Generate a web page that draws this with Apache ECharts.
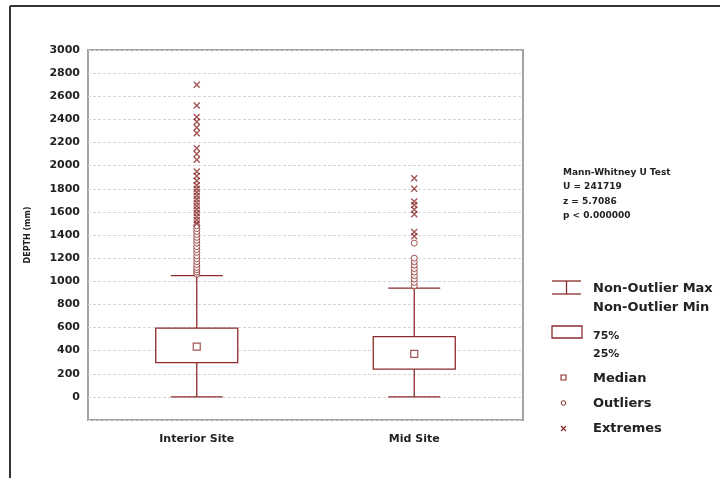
<!DOCTYPE html>
<html>
<head>
<meta charset="utf-8">
<script src="https://cdn.jsdelivr.net/npm/echarts@6/dist/echarts.min.js"></script>
<style>
  html, body { margin: 0; padding: 0; background: #fff; }
  #chartDepth { width: 720px; height: 478px; }
</style>
</head>
<body>
<div id="chartDepth"></div>
<script>
// box plot of depth by site
var sites = ['Interior Site', 'Mid Site'];
var nonOutlierMin = [0, 0];
var quartile25 = [297, 240];
var medians = [435, 372];
var quartile75 = [594, 521];
var nonOutlierMax = [1049, 940];

var interiorOutliers = [1060, 1080, 1100, 1120, 1145, 1170, 1195, 1220, 1250, 1275, 1300, 1330, 1355, 1380, 1405, 1430, 1455, 1480];
var interiorExtremes = [1500, 1530, 1560, 1590, 1620, 1650, 1680, 1710, 1740, 1770, 1800, 1830, 1870, 1910, 1950, 2050, 2100, 2150, 2280, 2330, 2380, 2420, 2520, 2700];
var midOutliers = [960, 990, 1020, 1050, 1080, 1110, 1140, 1170, 1200, 1330];
var midExtremes = [1390, 1425, 1580, 1620, 1660, 1690, 1800, 1890];

var yTicks = [-200, 3000, 200];
var statLines = ['Mann-Whitney U Test', 'U = 241719', 'z = 5.7086', 'p < 0.000000'];

var red = '#8b2b2b';
var font = 'DejaVu Sans';

var boxRows = sites.map(function (s, i) {
  return [i, nonOutlierMin[i], quartile25[i], medians[i], quartile75[i], nonOutlierMax[i]];
});
function points(idx, arr) {
  return arr.map(function (v) { return [idx, v]; });
}
function txt(x, y, s, size, lh) {
  return { type: 'text', x: x, y: y, style: { text: s, fill: '#222', font: 'bold ' + size + 'px "DejaVu Sans"', lineHeight: lh || size + 4 } };
}
function seg(x1, y1, x2, y2, c, w) {
  return { type: 'line', shape: { x1: x1, y1: y1, x2: x2, y2: y2 }, style: { stroke: c || red, lineWidth: w || 1.3 } };
}

var chart = echarts.init(document.getElementById('chartDepth'));

chart.setOption({
  animation: false,
  grid: {
    left: 88, right: 197, top: 50, bottom: 58,
    show: true, borderColor: '#a3a3a3', borderWidth: 2
  },
  xAxis: {
    type: 'category',
    data: sites,
    axisLine: { show: false },
    axisTick: { show: false },
    axisLabel: { color: '#222', fontFamily: font, fontWeight: 'bold', fontSize: 11, margin: 14 }
  },
  yAxis: {
    type: 'value',
    min: yTicks[0], max: yTicks[1], interval: yTicks[2],
    name: 'DEPTH (mm)',
    nameLocation: 'middle',
    nameGap: 56,
    nameTextStyle: { color: '#222', fontFamily: font, fontWeight: 'bold', fontSize: 8 },
    axisLine: { show: false },
    axisTick: { show: false },
    axisLabel: {
      color: '#222', fontFamily: font, fontWeight: 'bold', fontSize: 11, margin: 8,
      formatter: function (v) { return v < 0 ? '' : v; }
    },
    splitLine: { lineStyle: { color: '#d6d6d6', type: [3, 2], width: 1 } }
  },
  series: [
    {
      name: 'box',
      type: 'custom',
      data: boxRows,
      encode: { x: 0, y: [1, 2, 3, 4, 5] },
      renderItem: function (params, api) {
        var c = api.value(0);
        var pMin = api.coord([c, api.value(1)]);
        var pQ1 = api.coord([c, api.value(2)]);
        var pQ3 = api.coord([c, api.value(4)]);
        var pMax = api.coord([c, api.value(5)]);
        var x = pMin[0];
        var bw = 41, cw = 26;
        var st = { stroke: red, lineWidth: 1.3, fill: null };
        return {
          type: 'group',
          children: [
            { type: 'line', shape: { x1: x, y1: pQ3[1], x2: x, y2: pMax[1] }, style: st },
            { type: 'line', shape: { x1: x, y1: pQ1[1], x2: x, y2: pMin[1] }, style: st },
            { type: 'line', shape: { x1: x - cw, y1: pMax[1], x2: x + cw, y2: pMax[1] }, style: st },
            { type: 'line', shape: { x1: x - cw, y1: pMin[1], x2: x + cw, y2: pMin[1] }, style: st },
            { type: 'rect', shape: { x: x - bw, y: pQ3[1], width: bw * 2, height: pQ1[1] - pQ3[1] },
              style: { stroke: red, lineWidth: 1.3, fill: '#fff' } }
          ]
        };
      },
      z: 2
    },
    {
      name: 'Median',
      type: 'scatter',
      data: medians.map(function (v, i) { return [i, v]; }),
      symbol: 'rect',
      symbolSize: 7,
      itemStyle: { color: '#fff', borderColor: red, borderWidth: 1.2 },
      z: 3
    },
    {
      name: 'Outliers',
      type: 'scatter',
      data: points(0, interiorOutliers).concat(points(1, midOutliers)),
      symbol: 'circle',
      symbolSize: 6,
      itemStyle: { color: '#fff', borderColor: red, borderWidth: 1 },
      z: 4
    },
    {
      name: 'Extremes',
      type: 'scatter',
      data: points(0, interiorExtremes).concat(points(1, midExtremes)),
      symbol: 'path://M0,0L10,10M10,0L0,10',
      symbolSize: 6,
      itemStyle: { color: 'none', borderColor: red, borderWidth: 1.4 },
      z: 4
    }
  ],
  graphic: [
    // outer frame, top and left only
    seg(10, 6, 720, 6, '#333', 2),
    seg(10, 6, 10, 478, '#333', 2),
    // test result
    txt(563, 165, statLines.join('\n'), 9, 14.5),
    // legend icons
    seg(552, 281, 581, 281),
    seg(552, 294, 581, 294),
    seg(566.5, 281, 566.5, 294),
    { type: 'rect', shape: { x: 552, y: 326, width: 30, height: 12 }, style: { stroke: red, lineWidth: 1.3, fill: '#fff' } },
    { type: 'rect', shape: { x: 561, y: 375, width: 5, height: 5 }, style: { stroke: red, lineWidth: 1.1, fill: '#fff' } },
    { type: 'circle', shape: { cx: 563.5, cy: 403, r: 2.3 }, style: { stroke: red, lineWidth: 1, fill: '#fff' } },
    seg(561, 426, 566, 431),
    seg(566, 426, 561, 431),
    // legend labels
    txt(593, 279, 'Non-Outlier Max\nNon-Outlier Min', 13, 19),
    txt(593, 327, '75%\n25%', 11, 18),
    txt(593, 370, 'Median', 13),
    txt(593, 395, 'Outliers', 13),
    txt(593, 420, 'Extremes', 13)
  ]
});
</script>
</body>
</html>
